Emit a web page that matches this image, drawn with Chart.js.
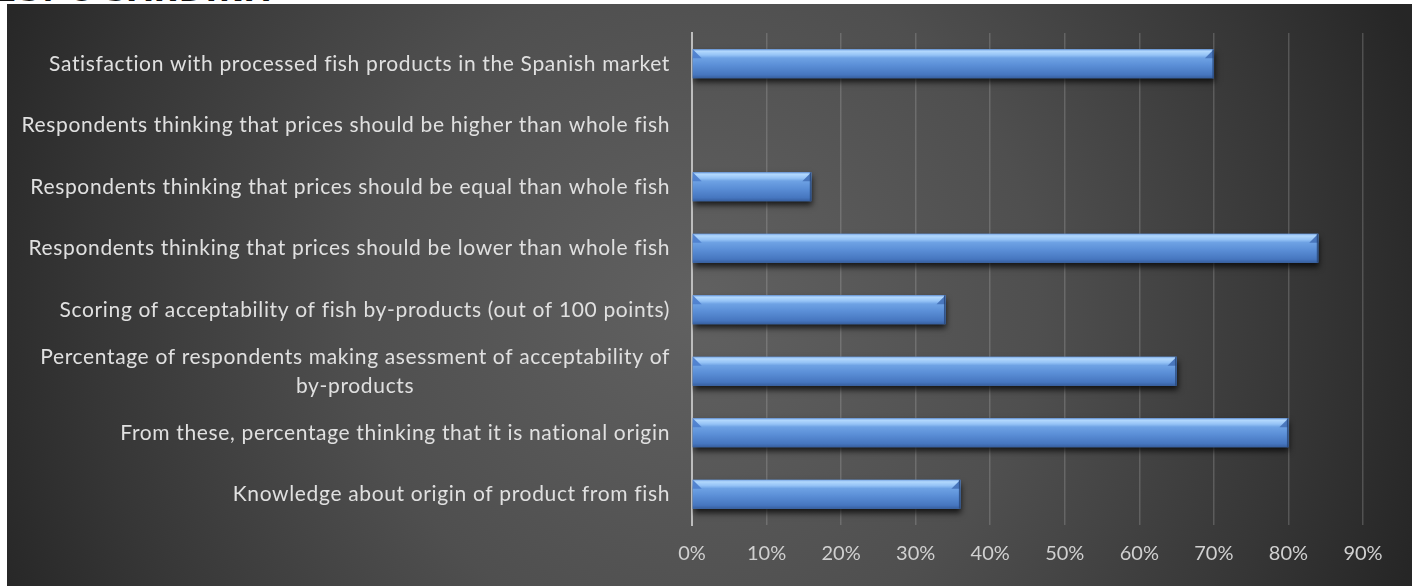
<!DOCTYPE html>
<html>
<head>
<meta charset="utf-8">
<script src="https://cdn.jsdelivr.net/npm/chart.js@4.4.1/dist/chart.umd.min.js"></script>
<style>
  html, body { margin: 0; padding: 0; background: #ffffff; }
  body { width: 1412px; height: 586px; position: relative; overflow: hidden; }
  #heading {
    position: absolute; left: -4px; top: -27px;
    font: bold 30px "DejaVu Sans", sans-serif; color: #111111;
    white-space: nowrap; letter-spacing: 2px; z-index: 0;
  }
  #box { position: absolute; left: 7px; top: 4px; width: 1405px; height: 582px; z-index: 1; }
</style>
</head>
<body>
<div id="heading">ES: C SARDINA</div>
<div id="box"><canvas id="c" width="1405" height="582"></canvas></div>
<script>
// Survey results on fish by-products (share of respondents)
const categories = [
  "Satisfaction with processed fish products in the Spanish market",
  "Respondents thinking that prices should be higher than whole fish",
  "Respondents thinking that prices should be equal than whole fish",
  "Respondents thinking that prices should be lower than whole fish",
  "Scoring of acceptability of fish by-products (out of 100 points)",
  ["Percentage of respondents making asessment of acceptability of", "by-products"],
  "From these, percentage thinking that it is national origin",
  "Knowledge about origin of product from fish"
];
const shares = [0.70, 0.00, 0.16, 0.84, 0.34, 0.65, 0.80, 0.36];
const percentTicks = [0, 0.1, 0.2, 0.3, 0.4, 0.5, 0.6, 0.7, 0.8, 0.9];

const LABEL_FONT = '21px Lato';
const LABEL_SPACING = '0.65px';
const LABEL_COLOR = '#e0e0e0';
const LABEL_GAP = 22;
const LINE_HEIGHT = 29;

// dark radial backdrop behind the whole chart
const backdrop = {
  id: 'backdrop',
  beforeDraw(chart) {
    const { ctx, width, height } = chart;
    const g = ctx.createRadialGradient(690, 300, 0, 690, 300, 760);
    g.addColorStop(0, '#616161');
    g.addColorStop(0.45, '#4f4f4f');
    g.addColorStop(0.8, '#363636');
    g.addColorStop(1, '#262626');
    ctx.save();
    ctx.fillStyle = g;
    ctx.fillRect(0, 0, width, height);
    ctx.restore();
  }
};

// drop shadow under the bars, then a bevelled glossy face on top
const bevel = {
  id: 'bevel',
  beforeDatasetDraw(chart) {
    const ctx = chart.ctx;
    ctx.save();
    ctx.shadowColor = 'rgba(0,0,0,0.75)';
    ctx.shadowBlur = 6;
    ctx.shadowOffsetY = 4;
    ctx.shadowOffsetX = 1;
  },
  afterDatasetDraw(chart) {
    const ctx = chart.ctx;
    ctx.restore();
    const meta = chart.getDatasetMeta(0);
    meta.data.forEach((bar) => {
      const p = bar.getProps(['x', 'y', 'base', 'height'], true);
      const left = Math.min(p.base, p.x), right = Math.max(p.base, p.x);
      const w = right - left;
      if (w < 1) return;
      const top = p.y - p.height / 2, h = p.height;
      const g = ctx.createLinearGradient(0, top, 0, top + h);
      g.addColorStop(0.00, '#7aa8e6');
      g.addColorStop(0.07, '#b2d8fd');
      g.addColorStop(0.20, '#95c3f6');
      g.addColorStop(0.30, '#6ea2e4');
      g.addColorStop(0.55, '#5b8fd7');
      g.addColorStop(0.88, '#4676bf');
      g.addColorStop(1.00, '#375f9f');
      ctx.save();
      ctx.fillStyle = g;
      ctx.fillRect(left, top, w, h);
      const b = Math.min(9, w / 2);
      // left end bevel
      ctx.fillStyle = 'rgba(78,128,205,0.95)';
      ctx.beginPath();
      ctx.moveTo(left, top);
      ctx.lineTo(left + b, top + b);
      ctx.lineTo(left, top + b);
      ctx.closePath();
      ctx.fill();
      // right end bevel
      ctx.fillStyle = 'rgba(70,115,185,0.95)';
      ctx.beginPath();
      ctx.moveTo(right, top);
      ctx.lineTo(right - b, top + b);
      ctx.lineTo(right, top + b);
      ctx.closePath();
      ctx.fill();
      ctx.fillStyle = 'rgba(40,70,120,0.8)';
      ctx.fillRect(right - 1.5, top, 1.5, h);
      ctx.restore();
    });
  }
};

// category names: each block right-aligned beside the axis, its lines centred
const categoryLabels = {
  id: 'categoryLabels',
  afterDraw(chart) {
    const { ctx } = chart;
    const yScale = chart.scales.y;
    const rightX = chart.chartArea.left - LABEL_GAP;
    ctx.save();
    ctx.font = LABEL_FONT;
    ctx.letterSpacing = LABEL_SPACING;
    ctx.fillStyle = LABEL_COLOR;
    ctx.textAlign = 'center';
    ctx.textBaseline = 'middle';
    categories.forEach((label, i) => {
      const lines = Array.isArray(label) ? label : [label];
      const maxW = Math.max(...lines.map(l => ctx.measureText(l).width));
      const cx = rightX - maxW / 2;
      const cy = yScale.getPixelForValue(i);
      const y0 = cy - (lines.length - 1) * LINE_HEIGHT / 2;
      lines.forEach((l, k) => ctx.fillText(l, cx, y0 + k * LINE_HEIGHT));
    });
    ctx.restore();
  }
};

new Chart(document.getElementById('c'), {
  type: 'bar',
  data: {
    labels: categories,
    datasets: [{
      data: shares,
      backgroundColor: '#4f83cc',
      borderWidth: 0,
      barPercentage: 0.47,
      categoryPercentage: 1.0
    }]
  },
  options: {
    indexAxis: 'y',
    responsive: false,
    animation: false,
    events: [],
    layout: { padding: { top: 29, right: 49, left: 0, bottom: 0 } },
    plugins: { legend: { display: false }, tooltip: { enabled: false } },
    scales: {
      x: {
        type: 'linear',
        min: 0,
        max: 0.9,
        afterBuildTicks(scale) { scale.ticks = percentTicks.map(v => ({ value: v })); },
        ticks: {
          callback: v => Math.round(v * 100) + '%',
          color: '#d0d0d0',
          font: { family: 'Lato', size: 20 },
          padding: 17
        },
        grid: { color: 'rgba(190,190,190,0.26)', lineWidth: 1.5, drawTicks: false },
        border: { display: false },
        afterFit(scale) { scale.height = 61; }
      },
      y: {
        type: 'category',
        ticks: { display: false },
        grid: { display: false, drawTicks: false },
        border: { display: true, color: '#bdbdbd', width: 2 },
        afterFit(scale) { scale.width = 685; }
      }
    }
  },
  plugins: [backdrop, bevel, categoryLabels]
});
</script>
</body>
</html>
